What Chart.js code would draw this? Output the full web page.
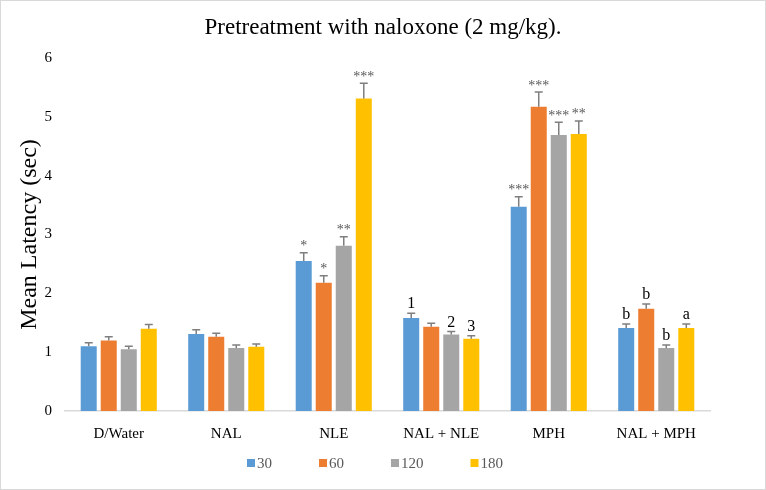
<!DOCTYPE html>
<html>
<head>
<meta charset="utf-8">
<script src="https://cdn.jsdelivr.net/npm/chart.js@4/dist/chart.umd.min.js"></script>
<style>
  body { margin: 0; background: #fff; }
  #wrap { width: 766px; height: 490px; }
</style>
</head>
<body>
<div id="wrap"><canvas id="myChart" width="766" height="490"></canvas></div>
<script>
const categories = ['D/Water', 'NAL', 'NLE', 'NAL + NLE', 'MPH', 'NAL + MPH'];
const seriesNames = ['30', '60', '120', '180'];

const means30 = [1.10, 1.31, 2.55, 1.58, 3.47, 1.41];
const means60 = [1.20, 1.26, 2.18, 1.43, 5.17, 1.74];
const means120 = [1.05, 1.07, 2.81, 1.30, 4.69, 1.07];
const means180 = [1.40, 1.09, 5.31, 1.23, 4.71, 1.41];

const sem30 = [0.06, 0.07, 0.14, 0.08, 0.17, 0.07];
const sem60 = [0.06, 0.06, 0.12, 0.06, 0.25, 0.08];
const sem120 = [0.05, 0.05, 0.15, 0.05, 0.22, 0.05];
const sem180 = [0.07, 0.05, 0.26, 0.05, 0.22, 0.07];

const marks30 = ['', '', '*', '1', '***', 'b'];
const marks60 = ['', '', '*', '', '***', 'b'];
const marks120 = ['', '', '**', '2', '***', 'b'];
const marks180 = ['', '', '***', '3', '**', 'a'];

const yTicks = [0, 1, 2, 3, 4, 5, 6];

const chartTitle = 'Pretreatment with naloxone (2 mg/kg).';
const yTitle = 'Mean Latency (sec)';

const colors = ['#5B9BD5', '#ED7D31', '#A5A5A5', '#FFC000'];
const means = [means30, means60, means120, means180];
const sems = [sem30, sem60, sem120, sem180];
const marks = [marks30, marks60, marks120, marks180];

const serif = "'Liberation Serif', 'Times New Roman', serif";

// error bars + significance marks, drawn from the bar elements
const errorBars = {
  id: 'errorBars',
  afterDatasetsDraw(chart) {
    const ctx = chart.ctx;
    const y = chart.scales.y;
    chart.data.datasets.forEach((ds, i) => {
      const meta = chart.getDatasetMeta(i);
      meta.data.forEach((bar, j) => {
        const top = y.getPixelForValue(means[i][j] + sems[i][j]);
        ctx.save();
        ctx.strokeStyle = '#7F7F7F';
        ctx.lineWidth = 1.5;
        ctx.beginPath();
        ctx.moveTo(bar.x, bar.y);
        ctx.lineTo(bar.x, top);
        ctx.moveTo(bar.x - 4, top);
        ctx.lineTo(bar.x + 4, top);
        ctx.stroke();
        const m = marks[i][j];
        if (m) {
          const stars = m.indexOf('*') >= 0;
          ctx.fillStyle = stars ? '#595959' : '#000';
          ctx.font = stars ? '14px ' + serif : '16px ' + serif;
          ctx.textAlign = 'center';
          ctx.textBaseline = 'alphabetic';
          ctx.fillText(m, bar.x, top - (stars ? 2.5 : 5));
        }
        ctx.restore();
      });
    });
  }
};

// title, legend and the outer frame
const decor = {
  id: 'decor',
  beforeDraw(chart) {
    const ctx = chart.ctx;
    ctx.save();
    ctx.fillStyle = '#fff';
    ctx.fillRect(0, 0, chart.width, chart.height);
    ctx.restore();
  },
  afterDraw(chart) {
    const ctx = chart.ctx;
    ctx.save();
    ctx.strokeStyle = '#D9D9D9';
    ctx.lineWidth = 1;
    ctx.strokeRect(0.5, 0.5, chart.width - 1, chart.height - 1);

    ctx.fillStyle = '#000';
    ctx.font = '23px ' + serif;
    ctx.textAlign = 'center';
    ctx.textBaseline = 'middle';
    ctx.fillText(chartTitle, 383, 28);

    ctx.font = '15px ' + serif;
    const box = 8, gap = 2, spacing = 47;
    const widths = seriesNames.map(s => box + gap + ctx.measureText(s).width);
    const total = widths.reduce((a, b) => a + b, 0) + spacing * (widths.length - 1);
    let x = 375 - total / 2;
    const ly = 463;
    ctx.textAlign = 'left';
    seriesNames.forEach((s, i) => {
      ctx.fillStyle = colors[i];
      ctx.fillRect(x, ly - box / 2, box, box);
      ctx.fillStyle = '#595959';
      ctx.fillText(s, x + box + gap, ly + 1);
      x += widths[i] + spacing;
    });
    ctx.restore();
  }
};

new Chart(document.getElementById('myChart'), {
  type: 'bar',
  data: {
    labels: categories,
    datasets: seriesNames.map((name, i) => ({
      label: name,
      data: means[i],
      backgroundColor: colors[i],
      borderWidth: 0,
      categoryPercentage: 0.745,
      barPercentage: 0.8
    }))
  },
  options: {
    responsive: false,
    animation: false,
    layout: { padding: { left: 10, right: 56, top: 58, bottom: 39 } },
    plugins: {
      title: { display: false },
      legend: { display: false },
      tooltip: { enabled: false }
    },
    scales: {
      x: {
        afterFit: s => { s.height = 40; },
        grid: { display: false, drawTicks: false },
        border: { color: '#D9D9D9', width: 1.5 },
        ticks: { color: '#000', font: { family: serif, size: 15 }, padding: 14 }
      },
      y: {
        min: 0,
        max: 6,
        afterBuildTicks: s => { s.ticks = yTicks.map(v => ({ value: v })); },
        afterFit: s => { s.width = 55; },
        grid: { display: false, drawTicks: false },
        border: { display: false },
        ticks: { color: '#000', font: { family: serif, size: 15 }, padding: 13 },
        title: {
          display: true,
          text: yTitle,
          color: '#000',
          font: { family: serif, size: 24 },
          padding: { top: 5, bottom: 0 }
        }
      }
    }
  },
  plugins: [errorBars, decor]
});
</script>
</body>
</html>
